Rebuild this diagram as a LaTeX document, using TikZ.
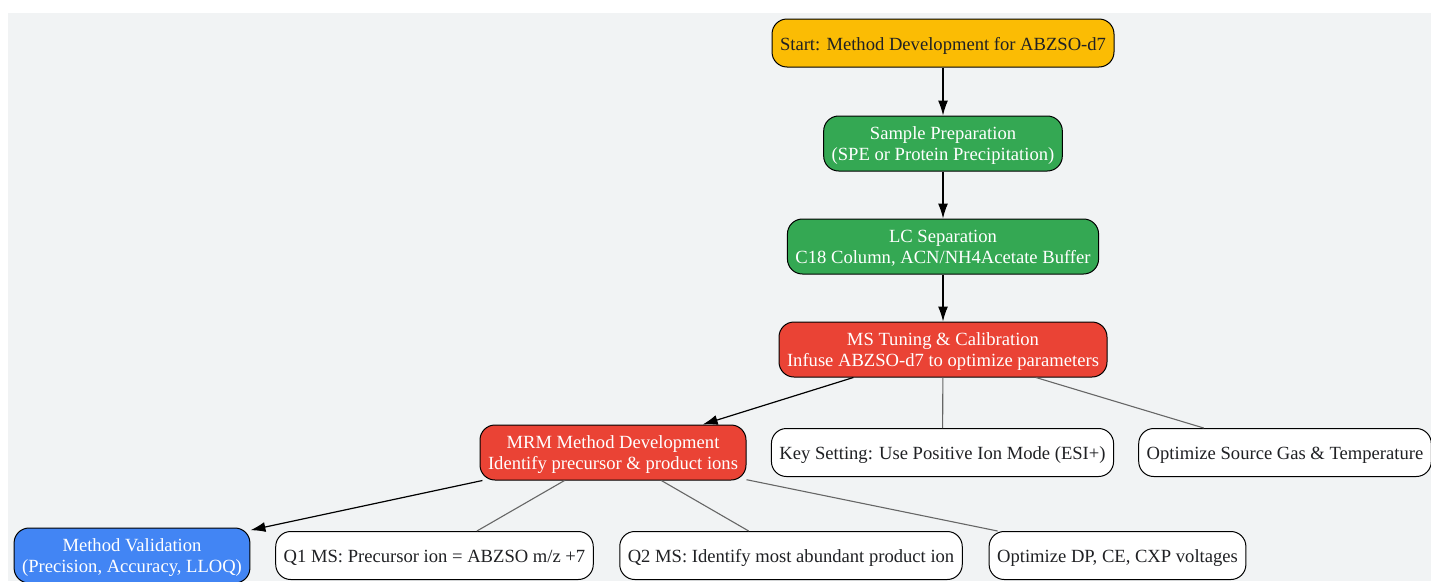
\documentclass[tikz,border=0pt]{standalone}
\usepackage{fontspec}
\setmainfont{Liberation Serif}
\usetikzlibrary{arrows.meta}

\definecolor{bggray}{HTML}{F1F3F4}
\definecolor{startyellow}{HTML}{FBBC04}
\definecolor{stepgreen}{HTML}{34A853}
\definecolor{stepred}{HTML}{EA4335}
\definecolor{valblue}{HTML}{4285F4}
\definecolor{textdark}{HTML}{202124}
\definecolor{linkgray}{HTML}{666666}

\begin{document}
\begin{tikzpicture}[x=1pt,y=-1pt,
    box/.style={draw=black, line width=1pt, rounded corners=15pt, align=center,
        inner xsep=8pt, inner ysep=7pt, minimum height=48pt, text=textdark,
        font=\fontsize{18.6}{21}\selectfont},
    oneline/.style={text height=18pt, text depth=4pt},
    twoline/.style={text height=37pt, text depth=4pt},
    flow/.style={-{Latex[length=15pt,width=10pt]}, line width=1.2pt, black},
    link/.style={line width=1.1pt, linkgray}]

    % page and background
    \useasboundingbox (0,0) rectangle (1431,581);
    \fill[bggray] (8,13) rectangle (1431,581);

    % main steps
    \node[box, oneline, fill=startyellow] (start) at (943,43) {Start: Method Development for ABZSO-d7};
    \node[box, twoline, fill=stepgreen, text=white] (prep) at (943,143.5) {Sample Preparation\\(SPE or Protein Precipitation)};
    \node[box, twoline, fill=stepgreen, text=white] (lc) at (943,246.5) {LC Separation\\C18 Column, ACN/NH4Acetate Buffer};
    \node[box, twoline, fill=stepred, text=white] (ms) at (943,349.5) {MS Tuning \& Calibration\\Infuse ABZSO-d7 to optimize parameters};
    \node[box, twoline, fill=stepred, text=white] (mrm) at (613,452.5) {MRM Method Development\\Identify precursor \& product ions};
    \node[box, twoline, fill=valblue, text=white] (valid) at (132,555.5) {Method Validation\\(Precision, Accuracy, LLOQ)};

    % notes
    \node[box, oneline, fill=white] (esi) at (942.5,452.5) {Key Setting: Use Positive Ion Mode (ESI+)};
    \node[box, oneline, fill=white] (gas) at (1285,452.5) {Optimize Source Gas \& Temperature};
    \node[box, oneline, fill=white] (q1) at (434.5,555.5) {Q1 MS: Precursor ion = ABZSO m/z +7};
    \node[box, oneline, fill=white] (q2) at (791,555.5) {Q2 MS: Identify most abundant product ion};
    \node[box, oneline, fill=white] (dp) at (1117.5,555.5) {Optimize DP, CE, CXP voltages};

    % draw arrow
    \draw[flow] (start) -- (prep);
    \draw[flow] (prep) -- (lc);
    \draw[flow] (lc) -- (ms);
    \draw[flow] (ms) -- (mrm);
    \draw[flow] (mrm) -- (valid);

    % note links
    \draw[link] (ms) -- (esi);
    \draw[link] (ms) -- (gas);
    \draw[link] (mrm) -- (q1);
    \draw[link] (mrm) -- (q2);
    \draw[link] (mrm) -- (dp);
\end{tikzpicture}
\end{document}
